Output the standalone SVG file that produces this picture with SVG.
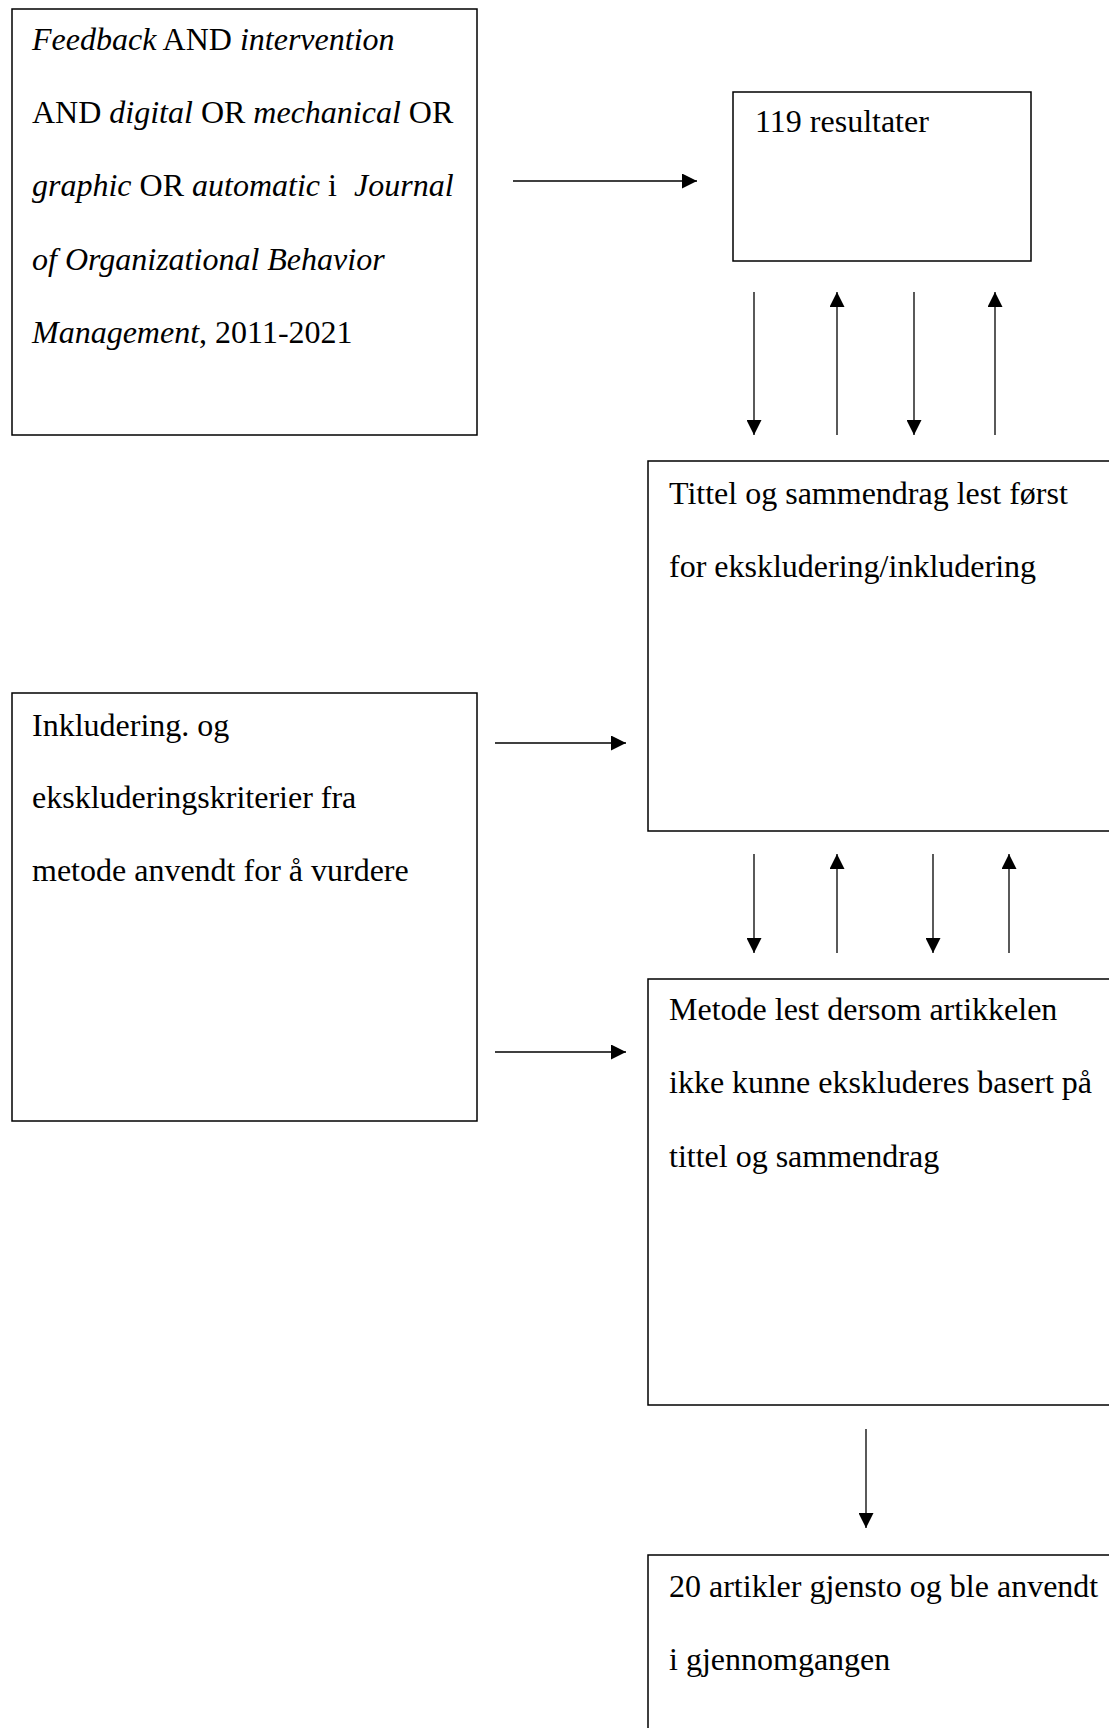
<svg xmlns="http://www.w3.org/2000/svg" width="1109" height="1728" viewBox="0 0 1109 1728">
<style>
.box{fill:#fff;stroke:#000;stroke-width:1.5}
.t{font-family:"Liberation Serif","Times New Roman",serif;font-size:32px;fill:#000}
.i{font-style:italic}
.c{stroke:#000;stroke-width:1.3;fill:none}
</style>
<defs>
<marker id="ah" viewBox="0 0 15 15" refX="15" refY="7.5" markerWidth="15" markerHeight="15" markerUnits="userSpaceOnUse" orient="auto">
<path d="M0,0 L15,7.5 L0,15 Z" fill="#000"/>
</marker>
</defs>
<rect width="1109" height="1728" fill="#fff"/>
<g id="search">
<rect class="box" x="12" y="9" width="465" height="426"/>
<text class="t" y="50"><tspan x="32" class="i">Feedback</tspan> AND <tspan class="i">intervention</tspan></text>
<text class="t" y="123"><tspan x="32">AND </tspan><tspan class="i">digital</tspan> OR <tspan class="i">mechanical</tspan> OR</text>
<text class="t" y="196"><tspan x="32" class="i">graphic</tspan> OR <tspan class="i">automatic</tspan> i<tspan x="354" class="i">Journal</tspan></text>
<text class="t i" x="32" y="270">of Organizational Behavior</text>
<text class="t" y="343"><tspan x="32" class="i">Management</tspan>, 2011-2021</text>
</g>
<g id="results">
<rect class="box" x="733" y="92" width="298" height="169"/>
<text class="t" x="755" y="132">119 resultater</text>
</g>
<g id="screening">
<rect class="box" x="648" y="461" width="480" height="370"/>
<text class="t" x="669" y="504">Tittel og sammendrag lest først</text>
<text class="t" x="669" y="577">for ekskludering/inkludering</text>
</g>
<g id="criteria">
<rect class="box" x="12" y="693" width="465" height="428"/>
<text class="t" x="32" y="736">Inkludering. og</text>
<text class="t" x="32" y="808">ekskluderingskriterier fra</text>
<text class="t" x="32" y="881">metode anvendt for å vurdere</text>
</g>
<g id="method">
<rect class="box" x="648" y="979" width="480" height="426"/>
<text class="t" x="669" y="1020">Metode lest dersom artikkelen</text>
<text class="t" x="669" y="1093">ikke kunne ekskluderes basert på</text>
<text class="t" x="669" y="1167">tittel og sammendrag</text>
</g>
<g id="final">
<rect class="box" x="648" y="1555" width="480" height="200"/>
<text class="t" x="669" y="1597">20 artikler gjensto og ble anvendt</text>
<text class="t" x="669" y="1670">i gjennomgangen</text>
</g>
<g id="connectors">
<line class="c" x1="513" y1="181" x2="697" y2="181" marker-end="url(#ah)"/>
<line class="c" x1="754" y1="292" x2="754" y2="435" marker-end="url(#ah)"/>
<line class="c" x1="837" y1="435" x2="837" y2="292" marker-end="url(#ah)"/>
<line class="c" x1="914" y1="292" x2="914" y2="435" marker-end="url(#ah)"/>
<line class="c" x1="995" y1="435" x2="995" y2="292" marker-end="url(#ah)"/>
<line class="c" x1="495" y1="743" x2="626" y2="743" marker-end="url(#ah)"/>
<line class="c" x1="495" y1="1052" x2="626" y2="1052" marker-end="url(#ah)"/>
<line class="c" x1="754" y1="854" x2="754" y2="953" marker-end="url(#ah)"/>
<line class="c" x1="837" y1="953" x2="837" y2="854" marker-end="url(#ah)"/>
<line class="c" x1="933" y1="854" x2="933" y2="953" marker-end="url(#ah)"/>
<line class="c" x1="1009" y1="953" x2="1009" y2="854" marker-end="url(#ah)"/>
<line class="c" x1="866" y1="1429" x2="866" y2="1528" marker-end="url(#ah)"/>
</g>
</svg>
